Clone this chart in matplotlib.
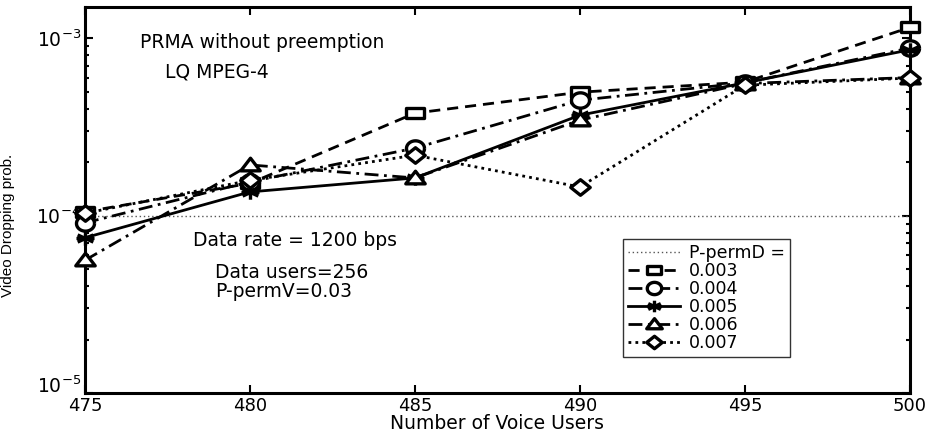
import matplotlib
matplotlib.use("Agg")
import numpy as np
import matplotlib.pyplot as plt
from matplotlib.path import Path
from matplotlib.ticker import LogLocator, NullFormatter, FixedLocator
from matplotlib import font_manager

plt.rcParams['font.family'] = ['DejaVu Sans']
plt.rcParams['mathtext.fontset'] = 'dejavusans'

voice_users = [475, 480, 485, 490, 495, 500]
p_permD_labels = ['0.003', '0.004', '0.005', '0.006', '0.007']
drop_003 = [1.05e-4, 1.52e-4, 3.78e-4, 4.96e-4, 5.65e-4, 1.15e-3]
drop_004 = [9.1e-5, 1.55e-4, 2.40e-4, 4.47e-4, 5.60e-4, 8.8e-4]
drop_005 = [7.5e-5, 1.36e-4, 1.63e-4, 3.68e-4, 5.60e-4, 8.6e-4]
drop_006 = [5.6e-5, 1.93e-4, 1.63e-4, 3.45e-4, 5.55e-4, 6.0e-4]
drop_007 = [1.03e-4, 1.58e-4, 2.19e-4, 1.45e-4, 5.43e-4, 5.96e-4]
reference_level = 1e-4
x_ticks = [475, 480, 485, 490, 495, 500]

names = {f.name for f in font_manager.fontManager.ttflist}
ylab_family = 'Liberation Sans Narrow' if 'Liberation Sans Narrow' in names else 'Liberation Sans'
ylab_size = 12.5 if ylab_family == 'Liberation Sans Narrow' else 11

# wide (horizontally stretched) marker shapes
sq = Path([(-1, -0.6), (1, -0.6), (1, 0.6), (-1, 0.6), (-1, -0.6)],
          [Path.MOVETO, Path.LINETO, Path.LINETO, Path.LINETO, Path.CLOSEPOLY])
t = np.linspace(0, 2 * np.pi, 40)
circ = Path(np.column_stack([np.cos(t), 0.85 * np.sin(t)]))
tri = Path([(-1, -0.55), (1, -0.55), (0, 0.75), (-1, -0.55)],
           [Path.MOVETO, Path.LINETO, Path.LINETO, Path.CLOSEPOLY])
dia = Path([(-1, 0), (0, 0.8), (1, 0), (0, -0.8), (-1, 0)],
           [Path.MOVETO, Path.LINETO, Path.LINETO, Path.LINETO, Path.CLOSEPOLY])
ast_v, ast_c = [], []
for ang in [0, 60, 120]:
    a = np.deg2rad(ang + 90)
    dx, dy = np.cos(a), 0.8 * np.sin(a)
    ast_v += [(-dx, -dy), (dx, dy)]
    ast_c += [Path.MOVETO, Path.LINETO]
ast_v += [(-1, 0), (1, 0)]
ast_c += [Path.MOVETO, Path.LINETO]
ast = Path(ast_v, ast_c)

fig = plt.figure(figsize=(9.37, 4.34), dpi=100)
ax = fig.add_axes([0.0907, 0.0945, 0.8803, 0.8895])

ax.plot([voice_users[0], voice_users[-1]], [reference_level, reference_level],
        linestyle=(0, (1, 2)), color='#555555', linewidth=1.0, label='P-permD =')

styles = [
    (drop_003, sq, (0, (4, 2.5)), 13),
    (drop_004, circ, (0, (5, 2, 1, 2)), 13),
    (drop_005, ast, '-', 13),
    (drop_006, tri, (0, (5, 2, 1, 2)), 14),
    (drop_007, dia, (0, (1, 1.5)), 14),
]
for (vals, mk, ls, ms), lab in zip(styles, p_permD_labels):
    ax.plot(voice_users, vals, linestyle=ls, color='black', linewidth=2.0,
            marker=mk, markersize=ms, markerfacecolor='white',
            markeredgecolor='black', markeredgewidth=2.4, label=lab,
            clip_on=False, zorder=3)

ax.set_yscale('log')
ax.set_xlim(475, 500)
ax.set_ylim(1e-5, 1.5e-3)
ax.xaxis.set_major_locator(FixedLocator(x_ticks))
ax.set_xticklabels([str(t) for t in x_ticks], fontsize=13)
ax.yaxis.set_major_locator(FixedLocator([1e-5, 1e-4, 1e-3]))
ax.set_yticklabels([r'$10^{-5}$', r'$10^{-4}$', r'$10^{-3}$'], fontsize=13.5)
ax.yaxis.set_minor_locator(LogLocator(base=10, subs=range(2, 10)))
ax.yaxis.set_minor_formatter(NullFormatter())
ax.tick_params(which='both', direction='in', top=True, right=True, width=1.5)
ax.tick_params(which='major', length=6)
ax.tick_params(axis='x', pad=3)
ax.tick_params(axis='y', pad=3)
ax.tick_params(which='minor', length=3)
for s in ax.spines.values():
    s.set_linewidth(2.2)
ax.get_yticklabels()[0].set_verticalalignment('baseline')

ax.set_xlabel('Number of Voice Users', fontsize=13.5, labelpad=-1)
ax.set_ylabel('Video Dropping prob.', fontsize=ylab_size, family=ylab_family)
ax.yaxis.set_label_coords(-0.085, 0.433)

txt = dict(transform=ax.transAxes, fontsize=13.5, va='center', ha='left')
ax.text(0.067, 0.907, 'PRMA without preemption', **txt)
ax.text(0.097, 0.832, 'LQ MPEG-4', **txt)
ax.text(0.131, 0.394, 'Data rate = 1200 bps', **txt)
ax.text(0.158, 0.313, 'Data users=256', **txt)
ax.text(0.158, 0.262, 'P-permV=0.03', **txt)

leg = ax.legend(loc='upper left', bbox_to_anchor=(0.652, 0.40), borderaxespad=0,
                fontsize=12.5, frameon=True, fancybox=False, edgecolor='black',
                handlelength=3.0, handletextpad=0.5, borderpad=0.3,
                labelspacing=0.0, markerscale=0.8)
leg.get_frame().set_linewidth(1.0)
leg.set_zorder(5)

fig.savefig('out.png', dpi=100)
